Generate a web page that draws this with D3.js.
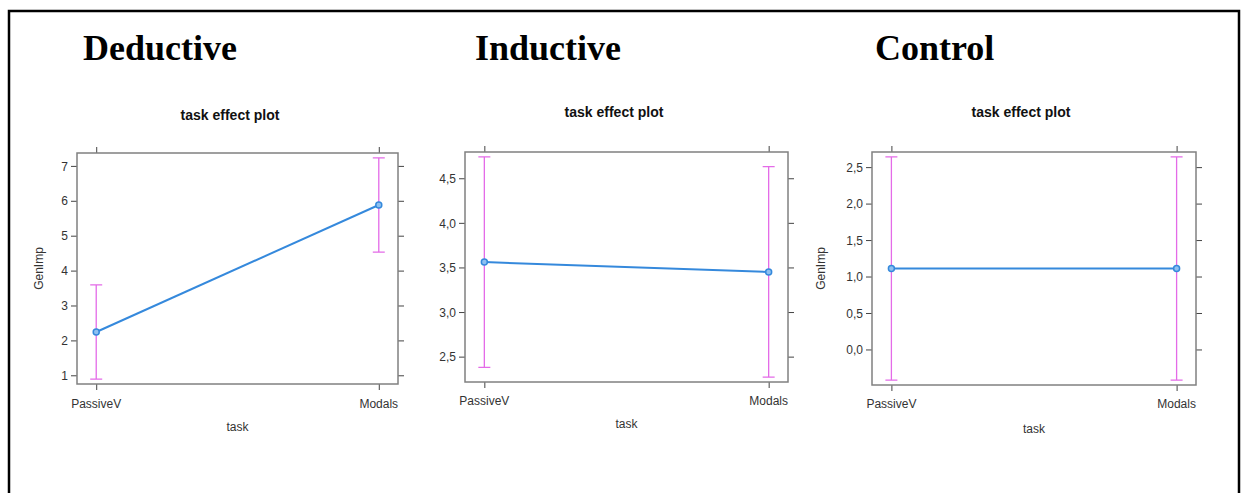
<!DOCTYPE html>
<html>
<head>
<meta charset="utf-8">
<script src="https://cdn.jsdelivr.net/npm/d3@7"></script>
<style>
  body { margin: 0; background: #fff; }
  svg text { font-family: 'Liberation Sans', Arial, sans-serif; }
  .groupTitle { font-family: 'Liberation Serif', 'Times New Roman', serif !important; font-weight: bold; font-size: 36px; fill: #000; }
  .plotTitle { font-weight: bold; font-size: 14px; fill: #111; }
  .tickLabel { font-size: 12px; fill: #333; }
  .axisLabel { font-size: 12px; fill: #333; }
</style>
</head>
<body>
<div id="chart"></div>
<script>
const groupNames = ['Deductive', 'Inductive', 'Control'];
const tasks = ['PassiveV', 'Modals'];

const deductiveFit = [2.24, 5.88];
const deductiveLower = [0.89, 4.53];
const deductiveUpper = [3.59, 7.23];
const deductiveTicks = [1, 2, 3, 4, 5, 6, 7];

const inductiveFit = [3.56, 3.45];
const inductiveLower = [2.38, 2.27];
const inductiveUpper = [4.74, 4.63];
const inductiveTicks = [2.5, 3.0, 3.5, 4.0, 4.5];

const controlFit = [1.11, 1.11];
const controlLower = [-0.42, -0.42];
const controlUpper = [2.64, 2.64];
const controlTicks = [0.0, 0.5, 1.0, 1.5, 2.0, 2.5];

const width = 1245;
const height = 493;

const svg = d3.select('#chart').append('svg')
  .attr('width', width)
  .attr('height', height);

// outer frame (no bottom edge in the original crop)
svg.append('path')
  .attr('d', `M9,${height} L9,11 L1239,11 L1239,${height}`)
  .style('fill', 'none')
  .style('stroke', '#000')
  .style('stroke-width', 2.5);

const panels = [
  {
    name: groupNames[0], fit: deductiveFit, lower: deductiveLower, upper: deductiveUpper, ticks: deductiveTicks,
    titleX: 83, left: 77, right: 398, top: 153, bottom: 384, subX: 230, subY: 120, ylabX: 43, xlabY: 431, tickY: 408,
  },
  {
    name: groupNames[1], fit: inductiveFit, lower: inductiveLower, upper: inductiveUpper, ticks: inductiveTicks,
    titleX: 475, left: 465, right: 788, top: 152, bottom: 382, subX: 614, subY: 117, ylabX: null, xlabY: 428, tickY: 405,
  },
  {
    name: groupNames[2], fit: controlFit, lower: controlLower, upper: controlUpper, ticks: controlTicks,
    titleX: 875, left: 872, right: 1196, top: 152, bottom: 385, subX: 1021, subY: 117, ylabX: 825, xlabY: 433, tickY: 408,
  },
];

const lineColor = '#3589dc';
const barColor = '#e46be8';
const boxColor = '#808080';
const fmt = (v, dec) => d3.format(dec ? '.1f' : 'd')(v).replace('.', ',');

panels.forEach((p) => {
  const g = svg.append('g');
  const decimals = p.ticks.some((t) => t % 1 !== 0);

  g.append('text')
    .attr('class', 'groupTitle')
    .attr('x', p.titleX)
    .attr('y', 60)
    .text(p.name);

  g.append('text')
    .attr('class', 'plotTitle')
    .attr('x', p.subX)
    .attr('y', p.subY)
    .style('text-anchor', 'middle')
    .text('task effect plot');

  const lo = d3.min(p.lower);
  const hi = d3.max(p.upper);
  const pad = (hi - lo) * 0.022;

  const yScale = d3.scaleLinear()
    .domain([lo - pad, hi + pad])
    .range([p.bottom, p.top]);

  const xScale = d3.scalePoint()
    .domain(tasks)
    .range([p.left, p.right])
    .padding(0.068);

  // left axis with labels
  const yLeft = g.append('g')
    .attr('transform', `translate(${p.left},0)`)
    .call(d3.axisLeft(yScale).tickValues(p.ticks).tickSize(6).tickPadding(3)
      .tickFormat((d) => fmt(d, decimals)));
  yLeft.select('.domain').remove();
  yLeft.selectAll('.tick line').style('stroke', '#444');
  yLeft.selectAll('.tick text').attr('class', 'tickLabel').attr('dy', '0.35em')
    .style('font-family', 'Liberation Sans, Arial, sans-serif').style('font-size', '12px').style('fill', '#333');

  // right axis, ticks only
  const yRight = g.append('g')
    .attr('transform', `translate(${p.right},0)`)
    .call(d3.axisRight(yScale).tickValues(p.ticks).tickSize(6).tickFormat(''));
  yRight.select('.domain').remove();
  yRight.selectAll('.tick line').style('stroke', '#444');

  // bottom axis with labels
  const xBottom = g.append('g')
    .attr('transform', `translate(0,${p.bottom})`)
    .call(d3.axisBottom(xScale).tickSize(6).tickFormat(''));
  xBottom.select('.domain').remove();
  xBottom.selectAll('.tick line').style('stroke', '#444');

  g.selectAll('.xTickLabel')
    .data(tasks)
    .join('text')
    .attr('class', 'tickLabel')
    .attr('x', (d) => xScale(d))
    .attr('y', p.tickY)
    .style('text-anchor', 'middle')
    .text((d) => d);

  // top axis, ticks only
  const xTop = g.append('g')
    .attr('transform', `translate(0,${p.top})`)
    .call(d3.axisTop(xScale).tickSize(6).tickFormat(''));
  xTop.select('.domain').remove();
  xTop.selectAll('.tick line').style('stroke', '#444');

  // panel box
  g.append('rect')
    .attr('x', p.left)
    .attr('y', p.top)
    .attr('width', p.right - p.left)
    .attr('height', p.bottom - p.top)
    .style('fill', 'none')
    .style('stroke', boxColor)
    .style('stroke-width', 1.5);

  g.append('text')
    .attr('class', 'axisLabel')
    .attr('x', (p.left + p.right) / 2)
    .attr('y', p.xlabY)
    .style('text-anchor', 'middle')
    .text('task');

  if (p.ylabX !== null) {
    g.append('text')
      .attr('class', 'axisLabel')
      .attr('transform', `translate(${p.ylabX},${(p.top + p.bottom) / 2}) rotate(-90)`)
      .style('text-anchor', 'middle')
      .text('GenImp');
  }

  const rows = tasks.map((t, i) => ({ task: t, fit: p.fit[i], lower: p.lower[i], upper: p.upper[i] }));

  // error bars
  g.selectAll('.errBar')
    .data(rows)
    .join('path')
    .attr('d', (d) => {
      const x = xScale(d.task);
      const yl = yScale(d.lower);
      const yu = yScale(d.upper);
      return `M${x},${yl}L${x},${yu}M${x - 6},${yu}L${x + 6},${yu}M${x - 6},${yl}L${x + 6},${yl}`;
    })
    .style('fill', 'none')
    .style('stroke', barColor)
    .style('stroke-width', 1.3);

  const line = d3.line()
    .x((d) => xScale(d.task))
    .y((d) => yScale(d.fit));

  g.append('path')
    .datum(rows)
    .attr('d', line)
    .style('fill', 'none')
    .style('stroke', lineColor)
    .style('stroke-width', 2);

  g.selectAll('.pt')
    .data(rows)
    .join('circle')
    .attr('cx', (d) => xScale(d.task))
    .attr('cy', (d) => yScale(d.fit))
    .attr('r', 3)
    .style('fill', '#8ec0f0')
    .style('stroke', lineColor)
    .style('stroke-width', 1.5);
});
</script>
</body>
</html>
